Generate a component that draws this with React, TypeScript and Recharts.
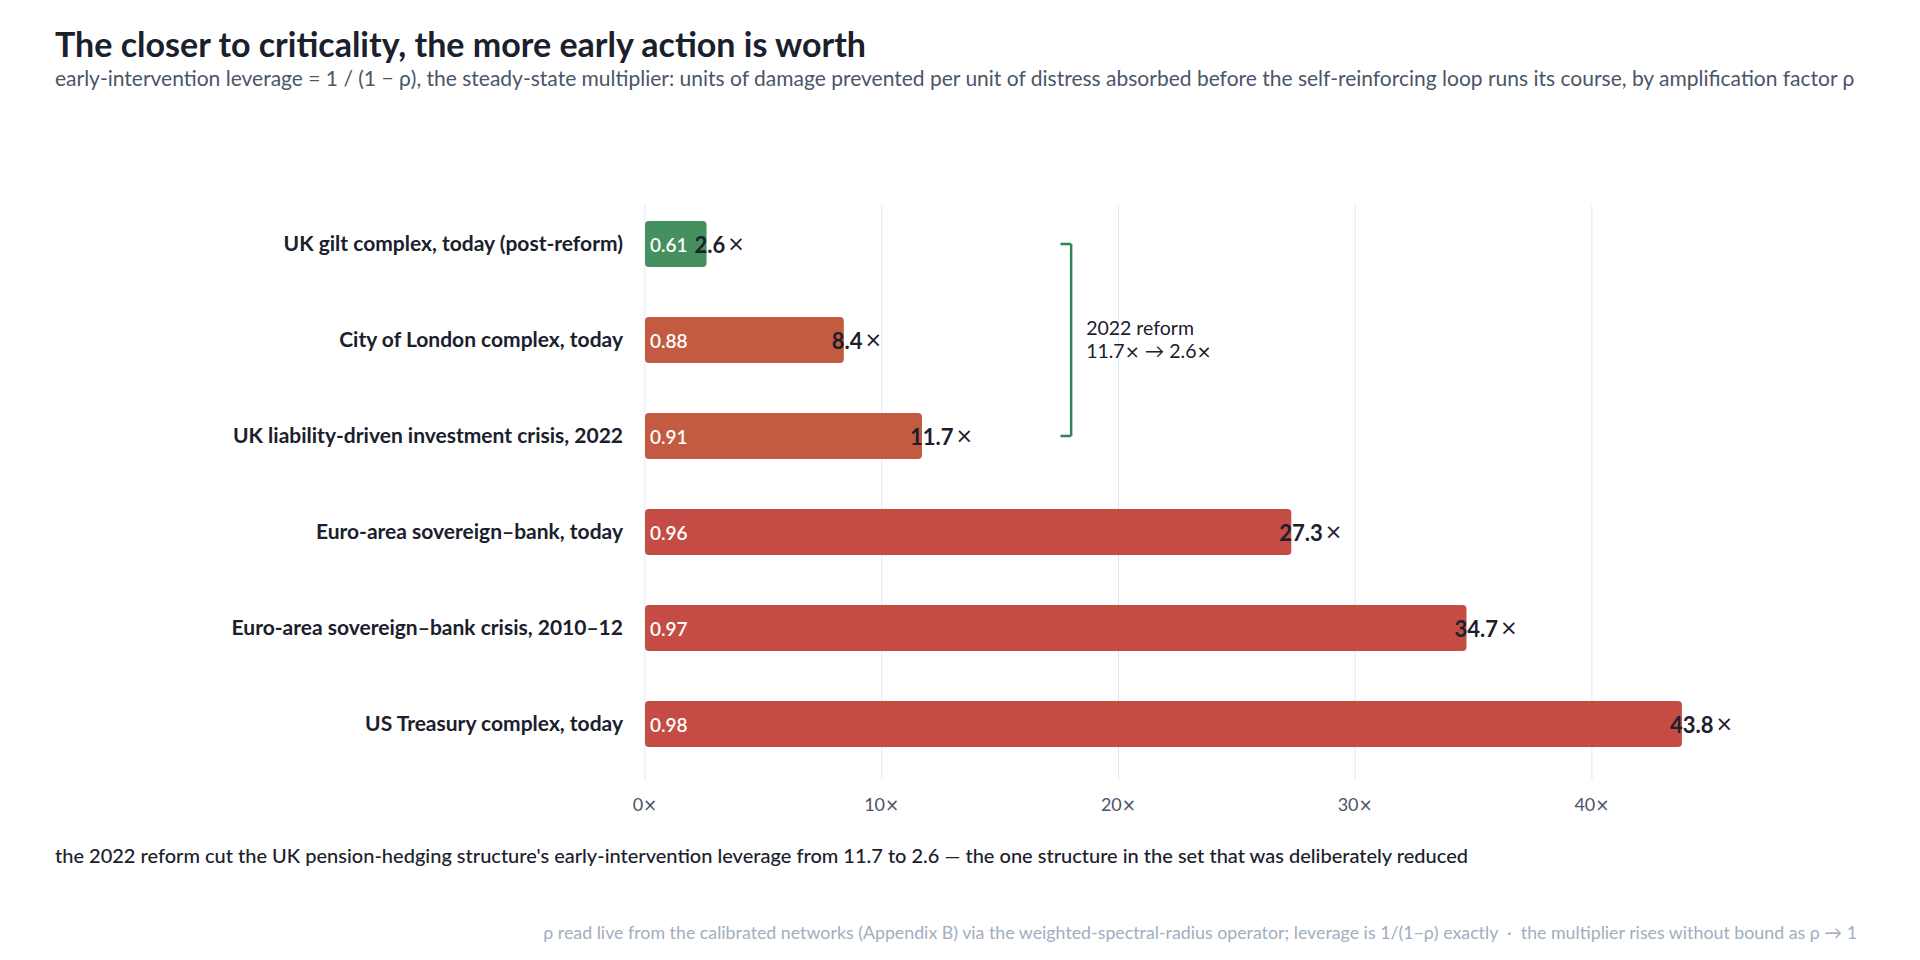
import {
  BarChart,
  Bar,
  XAxis,
  YAxis,
  CartesianGrid,
  Cell,
  LabelList,
  ReferenceLine,
} from "recharts";

const categories = [
  "UK gilt complex, today (post-reform)",
  "City of London complex, today",
  "UK liability-driven investment crisis, 2022",
  "Euro-area sovereign–bank, today",
  "Euro-area sovereign–bank crisis, 2010–12",
  "US Treasury complex, today",
];
const rho = [0.61, 0.88, 0.91, 0.96, 0.97, 0.98];
const leverage = [2.6, 8.4, 11.7, 27.3, 34.7, 43.8];
const xTicks = [0, 10, 20, 30, 40];

const data = categories.map((name, i) => ({ name, rho: rho[i], leverage: leverage[i] }));

const FONT = "Lato, 'Noto Sans', sans-serif";
const TIMES = "'DejaVu Sans', sans-serif";
const INK = "#1a202c";

function barColor(r: number) {
  if (r < 0.8) return "#3a8a55";
  if (r < 0.95) return "#c05236";
  return "#c2423a";
}

function RhoLabel(props: any) {
  const { x, y, height, value } = props;
  return (
    <text
      x={x + 5}
      y={y + height / 2}
      dominantBaseline="central"
      fill="#ffffff"
      fontSize={19}
      fontWeight={600}
      fontFamily={FONT}
    >
      {Number(value).toFixed(2)}
    </text>
  );
}

function LeverageLabel(props: any) {
  const { x, y, width, height, value } = props;
  return (
    <text
      x={x + width - 12}
      y={y + height / 2}
      dominantBaseline="central"
      fill={INK}
      fontSize={22}
      fontWeight={700}
      fontFamily={FONT}
    >
      {Number(value).toFixed(1)}
      <tspan dx={2} fontWeight={400} fontFamily={TIMES} fontSize={21}>×</tspan>
    </text>
  );
}

function XTick(props: any) {
  const { x, y, payload } = props;
  return (
    <text x={x} y={y} dy="0.71em" textAnchor="middle" fill="#4a5568" fontSize={18} fontFamily={FONT}>
      {payload.value}
      <tspan fontFamily={TIMES} fontSize={17}>×</tspan>
    </text>
  );
}

function ReformLabel(props: any) {
  const vb = props.viewBox || {};
  const cx = (vb.x ?? 0) + 15;
  const cy = (vb.y ?? 0) + (vb.height ?? 0) / 2;
  return (
    <text fill={INK} fontSize={19.5} fontFamily={FONT}>
      <tspan x={cx} y={cy - 5}>2022 reform</tspan>
      <tspan x={cx} y={cy + 18}>
        11.7<tspan fontFamily={TIMES} fontSize={18}>×</tspan> → 2.6<tspan fontFamily={TIMES} fontSize={18}>×</tspan>
      </tspan>
    </text>
  );
}

export default function App() {
  return (
    <div
      style={{
        position: "relative",
        width: 1920,
        height: 960,
        marginLeft: -8,
        marginTop: -8,
        background: "#ffffff",
        fontFamily: FONT,
        overflow: "hidden",
      }}
    >
      <div
        style={{
          position: "absolute",
          left: 55,
          top: 26,
          fontSize: 34,
          fontWeight: 700,
          lineHeight: "36px",
          color: INK,
          whiteSpace: "nowrap",
        }}
      >
        The closer to criticality, the more early action is worth
      </div>
      <div
        style={{
          position: "absolute",
          left: 55,
          top: 67,
          fontSize: 21,
          lineHeight: "22px",
          color: "#4a5568",
          whiteSpace: "nowrap",
        }}
      >
        early-intervention leverage = 1 / (1 − ρ), the steady-state multiplier: units of damage prevented per unit of
        distress absorbed before the self-reinforcing loop runs its course, by amplification factor ρ
      </div>

      <div style={{ position: "absolute", left: 0, top: 0 }}>
        <BarChart
          width={1920}
          height={960}
          data={data}
          layout="vertical"
          margin={{ top: 205, right: 186, left: 45, bottom: 150 }}
          barSize={46}
        >
          <CartesianGrid stroke="#e2e8f0" horizontal={false} verticalValues={xTicks} />
          <XAxis
            type="number"
            domain={[0, 46]}
            ticks={xTicks}
            axisLine={false}
            tickLine={false}
            tickSize={0}
            tickMargin={18}
            height={30}
            tick={<XTick />}
          />
          <YAxis
            type="category"
            dataKey="name"
            width={600}
            axisLine={false}
            tickLine={false}
            tickSize={0}
            tickMargin={22}
            padding={{ top: -9, bottom: 8 }}
            tick={{ fontSize: 21, fontWeight: 700, fill: INK, fontFamily: FONT }}
          />
          <Bar dataKey="leverage" radius={4} fillOpacity={0.95} isAnimationActive={false}>
            {data.map((d) => (
              <Cell key={d.name} fill={barColor(d.rho)} />
            ))}
            <LabelList dataKey="rho" content={<RhoLabel />} />
            <LabelList dataKey="leverage" content={<LeverageLabel />} />
          </Bar>
          <ReferenceLine
            segment={[
              { x: 18, y: categories[0] },
              { x: 18, y: categories[2] },
            ]}
            stroke="#2f855a"
            strokeWidth={2.5}
            ifOverflow="visible"
            label={<ReformLabel />}
          />
          <ReferenceLine
            segment={[
              { x: 17.55, y: categories[0] },
              { x: 18, y: categories[0] },
            ]}
            stroke="#2f855a"
            strokeWidth={2.5}
            ifOverflow="visible"
          />
          <ReferenceLine
            segment={[
              { x: 17.55, y: categories[2] },
              { x: 18, y: categories[2] },
            ]}
            stroke="#2f855a"
            strokeWidth={2.5}
            ifOverflow="visible"
          />
        </BarChart>
      </div>

      <div
        style={{
          position: "absolute",
          left: 55,
          top: 844,
          fontSize: 20,
          lineHeight: "22px",
          fontWeight: 500,
          color: INK,
          whiteSpace: "nowrap",
        }}
      >
        the 2022 reform cut the UK pension-hedging structure's early-intervention leverage from 11.7 to 2.6 — the one
        structure in the set that was deliberately reduced
      </div>
      <div
        style={{
          position: "absolute",
          right: 63,
          top: 922,
          fontSize: 17.8,
          lineHeight: "20px",
          color: "#a0aec0",
          whiteSpace: "nowrap",
        }}
      >
        ρ read live from the calibrated networks (Appendix B) via the weighted-spectral-radius operator; leverage is
        1/(1−ρ) exactly &nbsp;·&nbsp; the multiplier rises without bound as ρ → 1
      </div>
    </div>
  );
}
